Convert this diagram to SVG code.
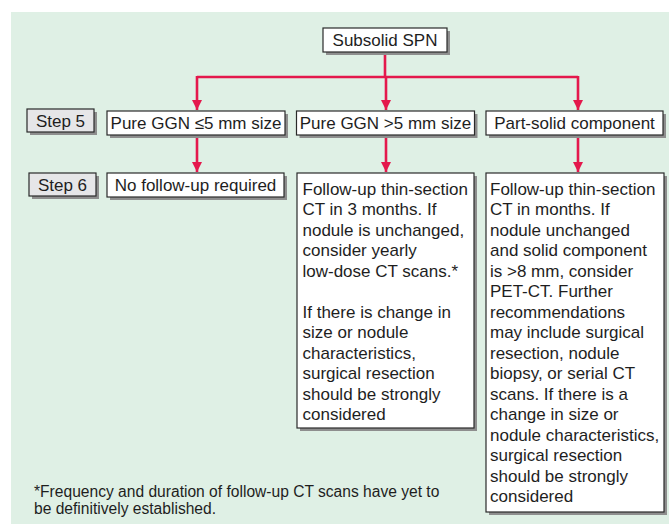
<svg xmlns="http://www.w3.org/2000/svg" width="669" height="524" viewBox="0 0 669 524">
<style>
.t{font-family:"Liberation Sans",Arial,sans-serif;font-size:17px;fill:#1e1e1e}
.fn{font-family:"Liberation Sans",Arial,sans-serif;font-size:15.6px;fill:#1e1e1e}
.box{fill:#ffffff;stroke:#2a2a2a;stroke-width:1.2}
.step{fill:#e6e6e8;stroke:#2a2a2a;stroke-width:1.2}
.sh{fill:#8e8e8e}
.c{fill:none;stroke:#e4184c;stroke-width:2.6}
</style>
<defs>
<marker id="ah" markerUnits="userSpaceOnUse" markerWidth="12" markerHeight="14" refX="10" refY="6" orient="auto" viewBox="0 0 12 12">
<path d="M0,1 L10,6 L0,11 Z" fill="#e4184c"/>
</marker>
</defs>
<rect x="11" y="12" width="658" height="512" fill="#dff0e5"/>
<g id="connectors">
<path class="c" d="M385,52 V77 M197,77 H578"/>
<path class="c" d="M197,76 V110" marker-end="url(#ah)"/>
<path class="c" d="M386,77 V110" marker-end="url(#ah)"/>
<path class="c" d="M578,76 V110" marker-end="url(#ah)"/>
<path class="c" d="M197,135 V172" marker-end="url(#ah)"/>
<path class="c" d="M386,135 V172" marker-end="url(#ah)"/>
<path class="c" d="M578,135 V172" marker-end="url(#ah)"/>
</g>
<g id="subsolid">
<rect class="sh" x="326" y="31" width="124" height="24"/>
<rect class="box" x="323" y="28" width="124" height="24"/>
<text class="t" x="385" y="46" text-anchor="middle">Subsolid SPN</text>
</g>
<g id="step5">
<rect class="sh" x="30" y="112" width="67" height="23"/>
<rect class="step" x="27" y="109" width="67" height="23"/>
<text class="t" x="60.5" y="127" text-anchor="middle">Step 5</text>
</g>
<g id="step6">
<rect class="sh" x="32" y="176" width="67" height="23"/>
<rect class="step" x="29" y="173" width="67" height="23"/>
<text class="t" x="62.5" y="191" text-anchor="middle">Step 6</text>
</g>
<g id="pure-ggn-small">
<rect class="sh" x="110" y="114" width="178" height="24"/>
<rect class="box" x="107" y="111" width="178" height="24"/>
<text class="t" x="196" y="129" text-anchor="middle">Pure GGN ≤5 mm size</text>
</g>
<g id="pure-ggn-large">
<rect class="sh" x="299.5" y="114" width="178" height="24"/>
<rect class="box" x="296.5" y="111" width="178" height="24"/>
<text class="t" x="385.5" y="129" text-anchor="middle">Pure GGN &gt;5 mm size</text>
</g>
<g id="part-solid">
<rect class="sh" x="489" y="114" width="177" height="24"/>
<rect class="box" x="486" y="111" width="177" height="24"/>
<text class="t" x="574.5" y="129" text-anchor="middle">Part-solid component</text>
</g>
<g id="no-follow-up">
<rect class="sh" x="110" y="176" width="177" height="24"/>
<rect class="box" x="107" y="173" width="177" height="24"/>
<text class="t" x="195.5" y="191" text-anchor="middle">No follow-up required</text>
</g>
<g id="follow-up-ggn">
<rect class="sh" x="300" y="176" width="177" height="255"/>
<rect class="box" x="297" y="173" width="177" height="255"/>
<text class="t" x="302.5" y="194.5">Follow-up thin-section</text>
<text class="t" x="302.5" y="215">CT in 3 months. If</text>
<text class="t" x="302.5" y="235.5">nodule is unchanged,</text>
<text class="t" x="302.5" y="256">consider yearly</text>
<text class="t" x="302.5" y="276.5">low-dose CT scans.*</text>
<text class="t" x="302.5" y="317.5">If there is change in</text>
<text class="t" x="302.5" y="338">size or nodule</text>
<text class="t" x="302.5" y="358.5">characteristics,</text>
<text class="t" x="302.5" y="379">surgical resection</text>
<text class="t" x="302.5" y="399.5">should be strongly</text>
<text class="t" x="302.5" y="420">considered</text>
</g>
<g id="follow-up-part-solid">
<rect class="sh" x="489" y="176" width="178" height="339"/>
<rect class="box" x="486" y="173" width="178" height="339"/>
<text class="t" x="490" y="194.5">Follow-up thin-section</text>
<text class="t" x="490" y="215">CT in months. If</text>
<text class="t" x="490" y="235.5">nodule unchanged</text>
<text class="t" x="490" y="256">and solid component</text>
<text class="t" x="490" y="276.5">is &gt;8 mm, consider</text>
<text class="t" x="490" y="297">PET-CT. Further</text>
<text class="t" x="490" y="317.5">recommendations</text>
<text class="t" x="490" y="338">may include surgical</text>
<text class="t" x="490" y="358.5">resection, nodule</text>
<text class="t" x="490" y="379">biopsy, or serial CT</text>
<text class="t" x="490" y="399.5">scans. If there is a</text>
<text class="t" x="490" y="420">change in size or</text>
<text class="t" x="490" y="440.5">nodule characteristics,</text>
<text class="t" x="490" y="461">surgical resection</text>
<text class="t" x="490" y="481.5">should be strongly</text>
<text class="t" x="490" y="502">considered</text>
</g>
<g id="footnote">
<text class="fn" x="34" y="497">*Frequency and duration of follow-up CT scans have yet to</text>
<text class="fn" x="34" y="514">be definitively established.</text>
</g>
</svg>
